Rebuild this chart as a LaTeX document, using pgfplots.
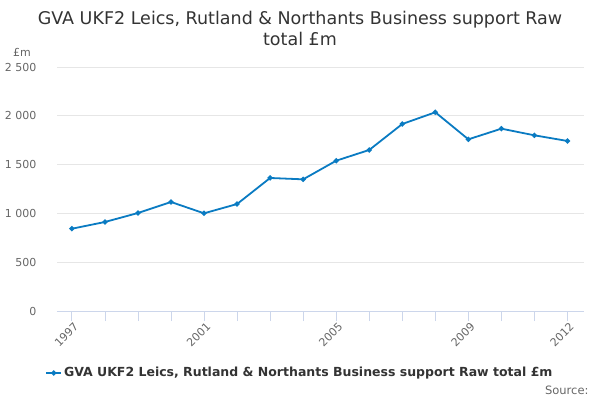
\documentclass[border=0pt]{standalone}
\usepackage{pgfplots}
\pgfplotsset{compat=1.18}
\usepackage{fontspec}
\setmainfont{DejaVu Sans}
\definecolor{lineblue}{HTML}{0A7BC2}
\definecolor{gridc}{HTML}{E6E6E6}
\definecolor{axc}{HTML}{CCD6EB}
\definecolor{tickc}{HTML}{666666}
\definecolor{titlec}{HTML}{333333}
\begin{document}
\begin{tikzpicture}[x=1pt,y=1pt]
\path[use as bounding box] (0,0) rectangle (600,400);
\node[text=titlec, font=\fontsize{17.5}{21}\selectfont, align=center] at (300,372) {GVA UKF2 Leics, Rutland \& Northants Business support Raw\\total £m};
\node[text=tickc, font=\fontsize{11.5}{13}\selectfont, anchor=east] at (592,10) {Source:};
\begin{axis}[
  at={(57pt,89pt)}, anchor=south west,
  scale only axis, width=527pt, height=244pt,
  xmin=1996.55, xmax=2012.5,
  ymin=0, ymax=2500,
  ytick={0,500,1000,1500,2000,2500},
  xtick={1997,2001,2005,2009,2012},
  minor xtick={1998,1999,2000,2002,2003,2004,2006,2007,2008,2010,2011},
  /pgf/number format/assume math mode=true,
  /pgf/number format/1000 sep={\ },
  xticklabel={\pgfmathprintnumber[1000 sep={}]{\tick}},
  scaled y ticks=false,
  axis y line*=left, axis x line*=bottom,
  y axis line style={draw=none},
  x axis line style={draw=axc, line width=0.8pt},
  ymajorgrids, grid style={gridc, line width=0.8pt},
  major y tick style={draw=none},
  major x tick style={draw=axc, line width=0.8pt},
  minor x tick style={draw=axc, line width=0.8pt},
  tick align=outside,
  major tick length=10pt, minor tick length=10pt,
  yticklabel style={text=tickc, font=\fontsize{11}{13}\selectfont, anchor=east, xshift=-7pt},
  xticklabel style={text=tickc, font=\fontsize{11}{13}\selectfont, rotate=45, anchor=north east, xshift=4pt, yshift=2pt},
  clip=false,
  legend style={at={(0.461,-0.254)}, anchor=center, draw=none, fill=none,
    font=\fontsize{12.5}{14}\selectfont\bfseries, text=titlec, inner sep=0pt},
  legend cell align=left,
  legend image code/.code={\draw[lineblue, line width=1.6pt] (0pt,0pt) -- (15pt,0pt); \fill[lineblue] (7.5pt,0pt) circle (1.6pt);},
]
\addplot[lineblue, line width=1.8pt, mark=*, mark size=1.6pt, mark options={fill=lineblue, draw=lineblue}] coordinates {
(1997,843) (1998,912) (1999,1004) (2000,1117) (2001,1001) (2002,1096)
(2003,1363) (2004,1349) (2005,1540) (2006,1650) (2007,1916) (2008,2036)
(2009,1759) (2010,1868) (2011,1800) (2012,1742)
};
\addlegendentry{GVA UKF2 Leics, Rutland \& Northants Business support Raw total £m}
\node[text=tickc, font=\fontsize{11}{13}\selectfont, anchor=west] at (rel axis cs:-0.09,1.06) {£m};
\end{axis}
\end{tikzpicture}
\end{document}
